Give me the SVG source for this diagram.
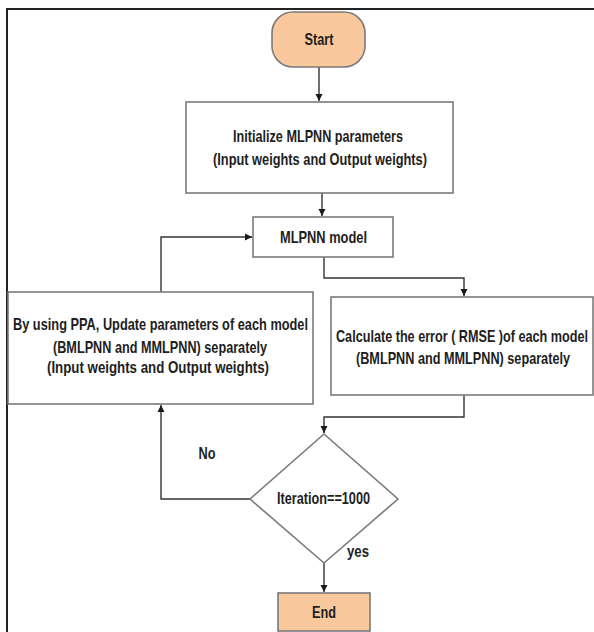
<svg xmlns="http://www.w3.org/2000/svg" width="594" height="632" viewBox="0 0 594 632">
<defs>
<marker id="ah" markerWidth="8" markerHeight="8" refX="7" refY="4" orient="auto" markerUnits="userSpaceOnUse">
<path d="M0,0.5 L7,4 L0,7.5 Z" fill="#1a1a1a"/>
</marker>
</defs>
<style>
.box{fill:#ffffff;stroke:#7a7a7a;stroke-width:1.6}
.term{fill:#f9c89c;stroke:#7a7a7a;stroke-width:1.6}
.t{font-family:"Liberation Sans",Arial,sans-serif;font-weight:bold;font-size:17px;fill:#1e1e1e;text-anchor:middle}
.c{fill:none;stroke:#333333;stroke-width:1.4}
.ca{fill:none;stroke:#333333;stroke-width:1.4;marker-end:url(#ah)}
</style>
<rect x="0" y="0" width="594" height="632" fill="#ffffff"/>
<rect x="7" y="9" width="620" height="660" fill="none" stroke="#222222" stroke-width="2"/>
<g id="connectors">
<line class="ca" x1="319" y1="67" x2="319" y2="101"/>
<line class="ca" x1="322" y1="193" x2="322" y2="216"/>
<polyline class="ca" points="161,292 161,237 252,237"/>
<polyline class="ca" points="324,257 324,278 464,278 464,296"/>
<polyline class="ca" points="464,395 464,417 324,417 324,433"/>
<polyline class="ca" points="250,499 161,499 161,405"/>
<line class="ca" x1="324" y1="563" x2="324" y2="592"/>
</g>
<g id="start">
<rect class="term" x="272" y="12" width="93" height="55" rx="21" ry="21"/>
<text class="t" x="319" y="44.5" textLength="29" lengthAdjust="spacingAndGlyphs">Start</text>
</g>
<g id="init">
<rect class="box" x="186" y="102" width="267" height="91"/>
<text class="t" x="318" y="142" textLength="170" lengthAdjust="spacingAndGlyphs">Initialize MLPNN parameters</text>
<text class="t" x="320" y="165" textLength="214" lengthAdjust="spacingAndGlyphs">(Input weights and Output weights)</text>
</g>
<g id="model">
<rect class="box" x="253" y="217" width="140" height="40"/>
<text class="t" x="323.5" y="243" textLength="87" lengthAdjust="spacingAndGlyphs">MLPNN model</text>
</g>
<g id="update">
<rect class="box" x="8" y="292" width="305" height="112"/>
<text class="t" x="160.5" y="330" textLength="295" lengthAdjust="spacingAndGlyphs">By using PPA, Update parameters of each model</text>
<text class="t" x="160" y="353" textLength="214" lengthAdjust="spacingAndGlyphs">(BMLPNN and MMLPNN) separately</text>
<text class="t" x="158" y="373" textLength="222" lengthAdjust="spacingAndGlyphs">(Input weights and Output weights)</text>
</g>
<g id="calc">
<rect class="box" x="331" y="297" width="262" height="98"/>
<text class="t" x="462" y="342" textLength="252" lengthAdjust="spacingAndGlyphs">Calculate the error ( RMSE )of each model</text>
<text class="t" x="463" y="364" textLength="214" lengthAdjust="spacingAndGlyphs">(BMLPNN and MMLPNN) separately</text>
</g>
<g id="decision">
<polygon class="box" points="324,434 398,499 324,563 250,499"/>
<text class="t" x="323.5" y="504" textLength="93" lengthAdjust="spacingAndGlyphs">Iteration==1000</text>
</g>
<g id="labels">
<text class="t" x="207" y="459" textLength="17" lengthAdjust="spacingAndGlyphs">No</text>
<text class="t" x="358" y="557" textLength="22" lengthAdjust="spacingAndGlyphs">yes</text>
</g>
<g id="end">
<rect class="term" x="278" y="593" width="92" height="38"/>
<text class="t" x="324" y="618" textLength="24" lengthAdjust="spacingAndGlyphs">End</text>
</g>
</svg>
